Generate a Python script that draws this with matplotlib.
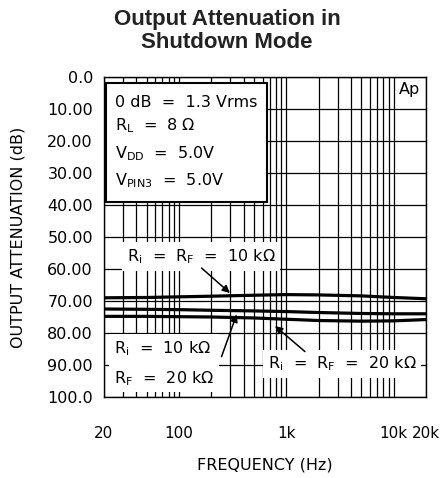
import matplotlib
matplotlib.use("Agg")
import matplotlib.pyplot as plt
from matplotlib.patches import Rectangle
from matplotlib.ticker import FixedLocator, NullFormatter

# values
freq = [20, 50, 100, 200, 500, 1000, 2000, 5000, 10000, 20000]
atten_ri_rf_10k = [69.0, 68.9, 68.7, 68.5, 68.2, 68.0, 68.1, 68.4, 68.9, 69.3]
atten_ri10k_rf20k = [72.5, 72.6, 72.7, 72.9, 73.1, 73.3, 73.6, 73.9, 74.0, 74.0]
atten_ri_rf_20k = [74.8, 74.8, 74.9, 75.0, 75.3, 75.7, 76.1, 76.3, 76.2, 75.8]

xticks = [20, 100, 1000, 10000, 20000]
xticklabels = ["20", "100", "1k", "10k", "20k"]
yticks = [0, 10, 20, 30, 40, 50, 60, 70, 80, 90, 100]
yticklabels = ["0.0", "10.00", "20.00", "30.00", "40.00", "50.00",
               "60.00", "70.00", "80.00", "90.00", "100.0"]

conditions = ["0 dB  =  1.3 Vrms",
              r"$\mathregular{R_L}$  =  8 Ω",
              r"$\mathregular{V_{DD}}$  =  5.0V",
              r"$\mathregular{V_{PIN3}}$  =  5.0V"]

plt.rcParams["font.family"] = ["DejaVu Sans"]
fs = 11.5

fig = plt.figure(figsize=(4.48, 4.78), dpi=100)
ax = fig.add_axes([104 / 448, 1 - 397 / 478, 322 / 448, 320 / 478])

for y in (atten_ri_rf_10k, atten_ri10k_rf20k, atten_ri_rf_20k):
    ax.plot(freq, y, color="black", lw=2.3, zorder=4, solid_capstyle="butt")

ax.set_xscale("log")
ax.set_xlim(20, 20000)
ax.set_ylim(100, 0)

# grid: every decade step, every 10 dB
grid_freqs = [m * 10 ** e for e in (1, 2, 3) for m in range(1, 10) if m * 10 ** e >= 20] + [10000, 20000]
ax.xaxis.set_minor_locator(FixedLocator(grid_freqs))
ax.xaxis.set_minor_formatter(NullFormatter())
ax.set_xticks(xticks)
ax.set_xticklabels(xticklabels)
ax.set_yticks(yticks)
ax.set_yticklabels(yticklabels)
ax.grid(which="both", color="black", lw=0.9, zorder=1)
ax.set_axisbelow(True)
ax.tick_params(which="both", length=0, labelsize=fs)
ax.tick_params(axis="x", pad=21, labelsize=11)
ax.tick_params(axis="y", pad=8)
for s in ax.spines.values():
    s.set_linewidth(1.0)

# conditions box
ax.add_patch(Rectangle((0.007, 0.61), 0.5, 0.372, transform=ax.transAxes,
                       facecolor="white", edgecolor="black", lw=1.5, zorder=3))
for txt, yb in zip(conditions, [0.907, 0.834, 0.747, 0.662]):
    ax.text(0.034, yb, txt, transform=ax.transAxes, fontsize=fs,
            va="baseline", ha="left", zorder=5)

ax.text(0.95, 0.96, "Ap", transform=ax.transAxes, fontsize=fs,
        ha="center", va="center", zorder=5)

box = dict(boxstyle="square,pad=0.3", facecolor="white", edgecolor="none")
arrow = dict(arrowstyle="-|>", color="black", lw=1.1, mutation_scale=11,
             shrinkA=0, shrinkB=0)

ax.text(0.301, 0.439, r"$\mathregular{R_i}$  =  $\mathregular{R_F}$  =  10 kΩ",
        transform=ax.transAxes, fontsize=fs, ha="center", va="center",
        bbox=box, zorder=5)
ax.annotate("", xy=(0.391, 0.325), xytext=(0.303, 0.403),
            xycoords="axes fraction", textcoords="axes fraction",
            arrowprops=arrow, zorder=6)

ax.text(0.03, 0.105,
        r"$\mathregular{R_i}$  =  10 kΩ" + "\n" + r"$\mathregular{R_F}$  =  20 kΩ",
        transform=ax.transAxes, fontsize=fs, ha="left", va="center",
        linespacing=1.8, bbox=box, zorder=5)
ax.annotate("", xy=(0.412, 0.258), xytext=(0.365, 0.126),
            xycoords="axes fraction", textcoords="axes fraction",
            arrowprops=arrow, zorder=6)

ax.text(0.739, 0.103, r"$\mathregular{R_i}$  =  $\mathregular{R_F}$  =  20 kΩ",
        transform=ax.transAxes, fontsize=fs, ha="center", va="center",
        bbox=box, zorder=5)
ax.annotate("", xy=(0.531, 0.222), xytext=(0.624, 0.142),
            xycoords="axes fraction", textcoords="axes fraction",
            arrowprops=arrow, zorder=6)

fig.text(18 / 448, 1 - 237 / 478, "OUTPUT ATTENUATION (dB)", rotation=90,
         fontsize=fs, ha="center", va="center")
fig.text(265 / 448, 1 - 465 / 478, "FREQUENCY (Hz)", fontsize=fs,
         ha="center", va="center")

fig.text(227 / 448, 1 - 25 / 478, "Output Attenuation in", fontsize=16,
         fontweight="bold", family="Liberation Sans", color="#222222",
         ha="center", va="baseline")
fig.text(227 / 448, 1 - 47.5 / 478, "Shutdown Mode", fontsize=16,
         fontweight="bold", family="Liberation Sans", color="#222222",
         ha="center", va="baseline")

fig.savefig("out.png", dpi=100)
